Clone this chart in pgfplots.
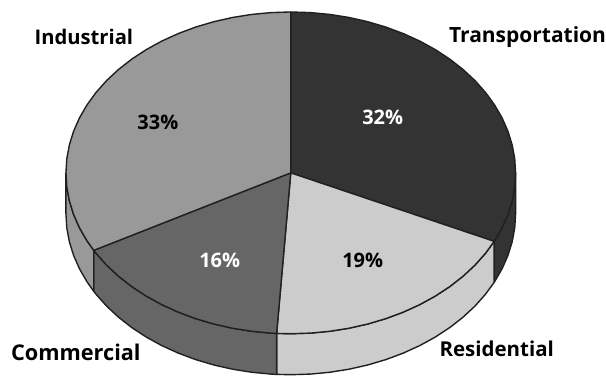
\documentclass[border=0pt]{standalone}
\usepackage{pgfplots}
\pgfplotsset{compat=1.18}
\usepackage{fontspec}
\setmainfont{Open Sans}
\definecolor{rimline}{HTML}{231F20}
\definecolor{transp}{HTML}{333333}
\definecolor{resid}{HTML}{CCCCCC}
\definecolor{comm}{HTML}{666666}
\definecolor{indus}{HTML}{999999}
\begin{document}
\begin{tikzpicture}
\begin{axis}[
  scale only axis, width=606pt, height=376pt,
  xmin=-1.2933, xmax=1.4, ymin=-1.2609, ymax=1.0745,
  axis lines=none, clip=false,
  every axis plot/.append style={draw=rimline, line width=1.4pt, line join=round, mark=none},
]
% Keep the whole plot area in the page's bounding box
\path (axis cs:-1.2933,-1.2609) rectangle (axis cs:1.4,1.0745);
% Outer walls of the disc: upper rim, then lower rim back again (rim depth 0.2547)
\addplot[fill=transp] coordinates {(1,0)(.9962,-.0872)(.9848,-.1736)(.9659,-.2588)(.9397,-.3420)(.9063,-.4226)(.9048,-.4258)
  (.9048,-.6805)(.9063,-.6773)(.9397,-.5967)(.9659,-.5135)(.9848,-.4283)(.9962,-.3419)(1,-.2547)} -- cycle;
\addplot[fill=resid] coordinates {(.9048,-.4258)(.8660,-.5)(.8192,-.5736)(.7660,-.6428)(.7071,-.7071)(.6428,-.7660)(.5736,-.8192)(.5,-.8660)(.4226,-.9063)(.3420,-.9397)(.2588,-.9659)(.1736,-.9848)(.0872,-.9962)(0,-1)(-.0628,-.9980)
  (-.0628,-1.2527)(0,-1.2547)(.0872,-1.2509)(.1736,-1.2395)(.2588,-1.2206)(.3420,-1.1944)(.4226,-1.1610)(.5,-1.1207)(.5736,-1.0739)(.6428,-1.0207)(.7071,-.9618)(.7660,-.8975)(.8192,-.8283)(.8660,-.7547)(.9048,-.6805)} -- cycle;
\addplot[fill=comm] coordinates {(-.0628,-.9980)(-.0872,-.9962)(-.1736,-.9848)(-.2588,-.9659)(-.3420,-.9397)(-.4226,-.9063)(-.5,-.8660)(-.5736,-.8192)(-.6428,-.7660)(-.7071,-.7071)(-.7660,-.6428)(-.8192,-.5736)(-.8660,-.5)(-.8763,-.4818)
  (-.8763,-.7365)(-.8660,-.7547)(-.8192,-.8283)(-.7660,-.8975)(-.7071,-.9618)(-.6428,-1.0207)(-.5736,-1.0739)(-.5,-1.1207)(-.4226,-1.1610)(-.3420,-1.1944)(-.2588,-1.2206)(-.1736,-1.2395)(-.0872,-1.2509)(-.0628,-1.2527)} -- cycle;
\addplot[fill=indus] coordinates {(-.8763,-.4818)(-.9063,-.4226)(-.9397,-.3420)(-.9659,-.2588)(-.9848,-.1736)(-.9962,-.0872)(-1,0)
  (-1,-.2547)(-.9962,-.3419)(-.9848,-.4283)(-.9659,-.5135)(-.9397,-.5967)(-.9063,-.6773)(-.8763,-.7365)} -- cycle;
% Top faces: Transportation 32, Residential 19, Commercial 16, Industrial 33, clockwise from twelve o'clock
\addplot[fill=transp] coordinates {(0,0)(0,1)(.0872,.9962)(.1736,.9848)(.2588,.9659)(.3420,.9397)(.4226,.9063)(.5,.8660)(.5736,.8192)(.6428,.7660)(.7071,.7071)(.7660,.6428)(.8192,.5736)(.8660,.5)(.9063,.4226)(.9397,.3420)(.9659,.2588)(.9848,.1736)(.9962,.0872)(1,0)(.9962,-.0872)(.9848,-.1736)(.9659,-.2588)(.9397,-.3420)(.9063,-.4226)(.9048,-.4258)} -- cycle;
\addplot[fill=resid] coordinates {(0,0)(.9048,-.4258)(.8660,-.5)(.8192,-.5736)(.7660,-.6428)(.7071,-.7071)(.6428,-.7660)(.5736,-.8192)(.5,-.8660)(.4226,-.9063)(.3420,-.9397)(.2588,-.9659)(.1736,-.9848)(.0872,-.9962)(0,-1)(-.0628,-.9980)} -- cycle;
\addplot[fill=comm] coordinates {(0,0)(-.0628,-.9980)(-.0872,-.9962)(-.1736,-.9848)(-.2588,-.9659)(-.3420,-.9397)(-.4226,-.9063)(-.5,-.8660)(-.5736,-.8192)(-.6428,-.7660)(-.7071,-.7071)(-.7660,-.6428)(-.8192,-.5736)(-.8660,-.5)(-.8763,-.4818)} -- cycle;
\addplot[fill=indus] coordinates {(0,0)(-.8763,-.4818)(-.9063,-.4226)(-.9397,-.3420)(-.9659,-.2588)(-.9848,-.1736)(-.9962,-.0872)(-1,0)(-.9962,.0872)(-.9848,.1736)(-.9659,.2588)(-.9397,.3420)(-.9063,.4226)(-.8660,.5)(-.8192,.5736)(-.7660,.6428)(-.7071,.7071)(-.6428,.7660)(-.5736,.8192)(-.5,.8660)(-.4226,.9063)(-.3420,.9397)(-.2588,.9659)(-.1736,.9848)(-.0872,.9962)(0,1)} -- cycle;
% Share and category labels
\tikzset{lab/.style={font=\fontsize{#1}{22}\selectfont\bfseries, inner sep=0pt, text=black},
  pct/.style={font=\fontsize{20}{22}\selectfont\bfseries, inner sep=0pt, text=black}}
\node[pct, text=white] at (axis cs:.409,.342) {32\%};
\node[pct] at (axis cs:.32,-.547) {19\%};
\node[pct, text=white] at (axis cs:-.316,-.547) {16\%};
\node[pct] at (axis cs:-.591,.311) {33\%};
\node[lab=20.2] at (axis cs:-.92,.845) {Industrial};
\node[lab=21] at (axis cs:1.053,.845) {Transportation};
\node[lab=21.7] at (axis cs:-.956,-1.118) {Commercial};
\node[lab=20.5] at (axis cs:.916,-1.093) {Residential};
\end{axis}
\end{tikzpicture}
\end{document}
